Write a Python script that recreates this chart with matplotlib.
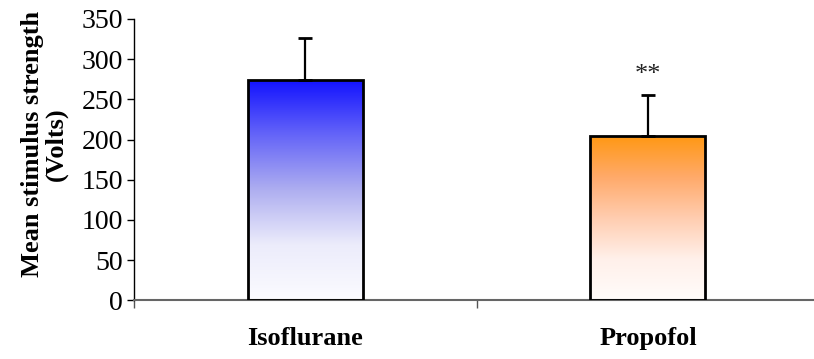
import numpy as np
import matplotlib
matplotlib.use("Agg")
import matplotlib.pyplot as plt
from matplotlib.colors import LinearSegmentedColormap
from matplotlib.patches import Rectangle

categories = ["Isoflurane", "Propofol"]
means = [274, 204]
sem_upper = [52, 52]
significance = ["", "**"]
yticks = [0, 50, 100, 150, 200, 250, 300, 350]

plt.rcParams["font.family"] = ["Liberation Serif", "DejaVu Serif"]

fig = plt.figure(figsize=(8.14, 3.59), dpi=100)
ax = fig.add_axes([134 / 814, 1 - 300.3 / 359, 1 - 134 / 814, (300.3 - 19) / 359])

positions = np.arange(len(categories))
bar_width = 0.336

gradients = [
    LinearSegmentedColormap.from_list(
        "iso", [(0.0, "#fbfbff"), (0.25, "#ececfb"), (0.5, "#aeaef0"), (0.75, "#6464f8"), (1.0, "#1212ff")]
    ),
    LinearSegmentedColormap.from_list(
        "pro", [(0.0, "#fffcfa"), (0.25, "#fff0ea"), (0.5, "#ffcdb0"), (0.75, "#ffaa6a"), (1.0, "#ff9814")]
    ),
]

grad = np.linspace(0, 1, 256).reshape(-1, 1)
for x, h, cmap in zip(positions, means, gradients):
    left = x - bar_width / 2
    im = ax.imshow(grad, cmap=cmap, aspect="auto", origin="lower",
                   extent=[left, left + bar_width, 0, h], zorder=2, interpolation="bilinear")
    rect = Rectangle((left, 0), bar_width, h, facecolor="none", edgecolor="black",
                     linewidth=2.0, zorder=3)
    ax.add_patch(rect)
    im.set_clip_path(rect)

ax.errorbar(positions, means, yerr=[np.zeros(len(means)), sem_upper], fmt="none",
            ecolor="black", elinewidth=1.6, capsize=5, capthick=2.0, zorder=4)

for x, m, e, s in zip(positions, means, sem_upper, significance):
    if s:
        ax.text(x, m + e + 24, s, ha="center", va="center", fontsize=19, color="#222222")

ax.set_xlim(-0.5, -0.5 + 680 / 342.6)
ax.set_ylim(0, 350)
ax.set_yticks(yticks)
ax.set_yticklabels([str(t) for t in yticks], fontsize=20)

ax.set_xticks([-0.5, 0.5])
ax.set_xticklabels([])
ax.set_xticks(positions, minor=True)
ax.set_xticklabels(categories, minor=True, fontsize=19, fontweight="bold")
ax.tick_params(axis="x", which="minor", length=0, pad=19)
ax.tick_params(axis="x", which="major", length=6, width=1, color="#555555", direction="out")
ax.tick_params(axis="y", length=5, width=1, direction="out", pad=3)

for side in ("top", "right"):
    ax.spines[side].set_visible(False)
ax.spines["left"].set_linewidth(1.0)
ax.spines["bottom"].set_color("#666666")
ax.spines["bottom"].set_linewidth(1.5)

ax.set_ylabel("Mean stimulus strength\n(Volts)", fontsize=19, fontweight="bold",
              linespacing=1.05)
ax.yaxis.set_label_coords(-66 / 680, 0.556)

fig.savefig("out.png", dpi=100)
